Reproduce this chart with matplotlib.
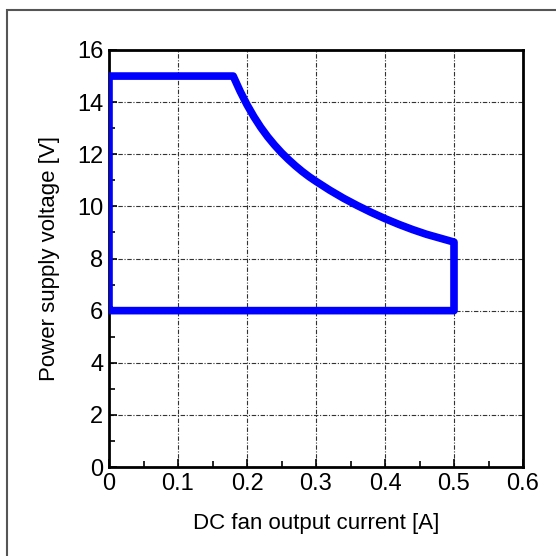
import matplotlib
matplotlib.use("Agg")
import matplotlib.pyplot as plt
import matplotlib.ticker as mticker
from matplotlib.patches import Rectangle

# ── Data ─────────────────────────────────────────────────────────────────────
# Operating region outline: DC fan output current [A] vs supply voltage [V]
current_a = [0.0, 0.0, 0.18, 0.19, 0.20, 0.21, 0.22, 0.23, 0.24, 0.25,
             0.26, 0.27, 0.28, 0.29, 0.30, 0.32, 0.34, 0.36, 0.38, 0.40,
             0.42, 0.44, 0.46, 0.48, 0.50, 0.50, 0.0]
voltage_v = [6.0, 15.0, 15.0, 14.42, 13.90, 13.44, 13.03, 12.67, 12.35, 12.06,
             11.80, 11.56, 11.34, 11.14, 10.96, 10.62, 10.31, 10.03, 9.77, 9.53,
             9.31, 9.11, 8.93, 8.78, 8.63, 6.0, 6.0]

x_ticks = [0, 0.1, 0.2, 0.3, 0.4, 0.5, 0.6]
x_tick_labels = ["0", "0.1", "0.2", "0.3", "0.4", "0.5", "0.6"]
y_ticks = [0, 2, 4, 6, 8, 10, 12, 14, 16]

TICK_FONT = ["Liberation Sans Narrow", "Liberation Sans", "DejaVu Sans"]
LABEL_FONT = ["Liberation Sans", "DejaVu Sans"]

fig = plt.figure(figsize=(5.56, 5.56), dpi=100)
ax = fig.add_axes([109 / 556, 1 - 467 / 556, (523 - 109) / 556, (467 - 50) / 556])

# outer frame around the figure (runs off the right and bottom edges)
fig.patches.append(Rectangle((7 / 556, -0.05), 1.1, 1 - 10 / 556 + 0.05,
                             transform=fig.transFigure, fill=False,
                             edgecolor="#555555", linewidth=1.5))

ax.plot(current_a, voltage_v, color="#0000FF", linewidth=5.5,
        solid_joinstyle="round", solid_capstyle="butt", zorder=3)

ax.set_xlim(0, 0.6)
ax.set_ylim(0, 16)
ax.set_xticks(x_ticks)
ax.set_xticklabels(x_tick_labels)
ax.set_yticks(y_ticks)
ax.xaxis.set_minor_locator(mticker.MultipleLocator(0.05))
ax.yaxis.set_minor_locator(mticker.MultipleLocator(1))

ax.tick_params(which="both", direction="in", top=False, right=False,
               width=1.2, color="black")
ax.tick_params(which="major", length=6, pad=4, labelsize=17)
ax.tick_params(which="minor", length=4)
for lab in ax.get_xticklabels() + ax.get_yticklabels():
    lab.set_family(TICK_FONT)

ax.grid(True, which="major", color="#333333", linewidth=0.8,
        linestyle=(0, (4, 1.5, 1, 1.5)))
ax.set_axisbelow(True)

for sp in ax.spines.values():
    sp.set_linewidth(2)
    sp.set_color("black")

ax.set_xlabel("DC fan output current [A]", fontsize=16, family=LABEL_FONT,
              labelpad=13)
ax.set_ylabel("Power supply voltage [V]", fontsize=16, family=LABEL_FONT,
              labelpad=12)

fig.savefig("out.png", dpi=100)
